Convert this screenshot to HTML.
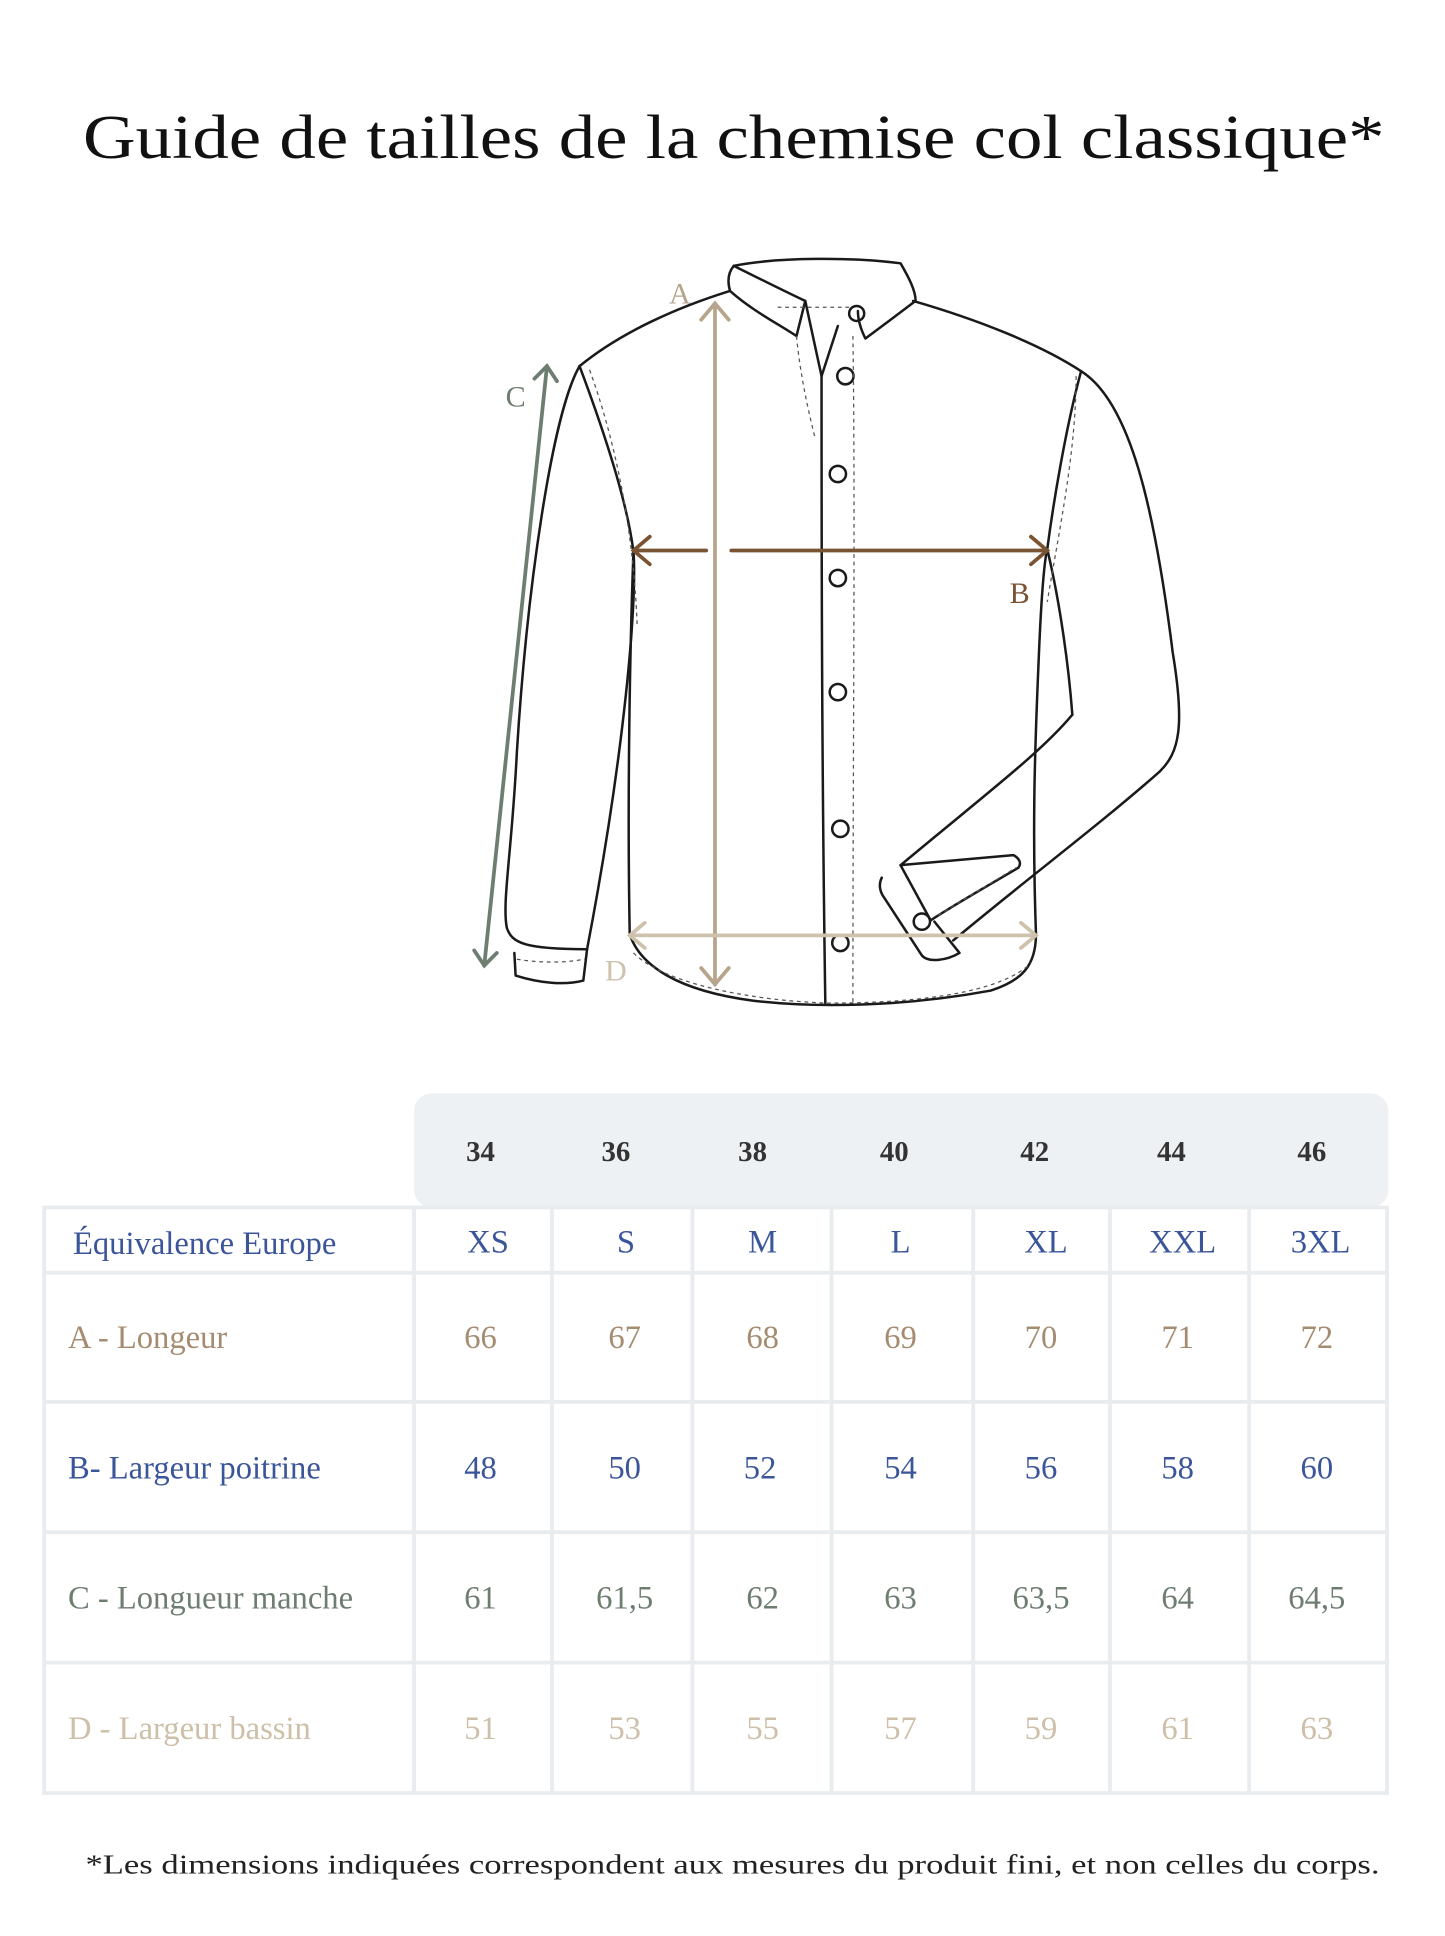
<!DOCTYPE html>
<html><head><meta charset="utf-8"><style>html,body{margin:0;padding:0;background:#fff}svg{display:block}</style></head>
<body>
<svg width="1445" height="1936" viewBox="0 0 1152 1544" xmlns="http://www.w3.org/2000/svg" font-family="Liberation Serif, serif">
<rect width="1152" height="1544" fill="#fff"/>
<text x="585" y="126" font-size="50" text-anchor="middle" fill="#111" textLength="1038" lengthAdjust="spacingAndGlyphs">Guide de tailles de la chemise col classique*</text>

<!-- shirt -->
<g fill="none" stroke="#1a1a1a" stroke-width="2" stroke-linecap="round" stroke-linejoin="round">
  <path d="M582,232 C540,245 495,265 462,292"/>
  <path d="M462,292 C440,330 420,470 412,600 C408,680 400,720 404,740 C408,752 418,757 468,757"/>
  <path d="M410,760 L411,778 C430,784 450,786 465,782 L468,757"/>
  <path d="M462,292 C480,340 500,400 505,440 C508,480 498,600 468,757"/>
  <path d="M505,440 C502,520 500,640 502,745 C510,770 540,790 600,798 C650,804 720,803 790,790 C815,782 826,770 826,745"/>
  <path d="M826,745 C823,660 825,600 828,530 C830,480 832,450 835,438 C840,400 850,340 862,296"/>
  <path d="M728,240 C780,255 830,275 862,296 C900,320 920,400 935,520 C945,580 940,600 925,615 C880,655 820,700 760,750"/>
  <path d="M855,570 C830,600 790,630 718,690"/>
  <path d="M835,438 C845,480 852,530 855,570"/>
  <path d="M703,700 C700,706 702,712 705,716 L735,762 C740,768 755,766 765,760 L745,735"/>
  <path d="M718,690 L742,734 C760,722 790,705 812,692 C815,688 812,684 808,682 L718,690"/>
  <path d="M585,212 C620,205 680,205 718,210 C725,222 730,232 730,240 L690,270 C686,262 684,255 684,248"/>
  <path d="M585,212 C580,218 580,225 582,232 C600,248 620,258 635,268 L642,240 C625,232 605,222 585,212"/>
  <path d="M642,240 L655,300 L668,260"/>
  <path d="M655,300 C655,420 655,600 658,800"/>
  <circle cx="683" cy="250" r="6"/>
  <circle cx="674" cy="300" r="6.5"/><circle cx="668" cy="378" r="6.5"/><circle cx="668" cy="461" r="6.5"/>
  <circle cx="668" cy="552" r="6.5"/><circle cx="670" cy="661" r="6.5"/><circle cx="670" cy="752" r="6.5"/>
  <circle cx="735" cy="735" r="6.5"/>
</g>
<g fill="none" stroke="#555" stroke-width="1" stroke-dasharray="3,3">
  <path d="M680,268 C682,400 680,600 680,800"/>
  <path d="M635,268 C638,300 645,330 650,350"/>
  <path d="M470,295 C490,350 505,420 508,500"/>
  <path d="M858,300 C858,360 845,420 835,480"/>
  <path d="M505,760 C530,785 600,798 660,800 C740,800 800,790 822,768"/>
  <path d="M412,765 C430,768 450,768 466,765"/>
  <path d="M748,730 L810,692"/>
  <path d="M620,245 L680,245"/>
</g>

<!-- arrows -->
<g fill="none" stroke-width="3" stroke-linecap="round">
  <g stroke="#b6a58c"><path d="M570,242 L570,785"/><path d="M559,255 L570,242 L581,255"/><path d="M559,772 L570,785 L581,772"/></g>
  <g stroke="#7a5333"><path d="M505,439 L563,439"/><path d="M583,439 L835,439"/><path d="M518,428 L505,439 L518,450"/><path d="M822,428 L835,439 L822,450"/></g>
  <g stroke="#6d7d70"><path d="M436,292 L386,770"/><path d="M426,302 L436,292 L444,304"/><path d="M378,758 L386,770 L396,760"/></g>
  <g stroke="#cfc2ad"><path d="M502,746 L826,746"/><path d="M514,736 L502,746 L514,756"/><path d="M814,736 L826,746 L814,756"/></g>
</g>
<text x="542" y="242" font-size="24" fill="#b6a58c" text-anchor="middle">A</text>
<text x="813" y="481" font-size="24" fill="#7a5333" text-anchor="middle">B</text>
<text x="411" y="324" font-size="24" fill="#6d7d70" text-anchor="middle">C</text>
<text x="491" y="782" font-size="24" fill="#cfc2ad" text-anchor="middle">D</text>

<!-- table -->
<rect x="330" y="872" width="777" height="91" rx="14" fill="#eef1f4"/>
<g fill="none" stroke="#e8ecef" stroke-width="3">
  <rect x="35" y="963" width="1071" height="467"/>
  <path d="M35,1015H1106M35,1118H1106M35,1222H1106M35,1326H1106"/>
  <path d="M330,963V1430M440,963V1430M552,963V1430M663,963V1430M776,963V1430M885,963V1430M996,963V1430"/>
</g>
<g font-size="23" fill="#333" text-anchor="middle" font-weight="bold">
  <text x="383" y="926">34</text><text x="491" y="926">36</text><text x="600" y="926">38</text><text x="713" y="926">40</text><text x="825" y="926">42</text><text x="934" y="926">44</text><text x="1046" y="926">46</text>
</g>
<g font-size="26" fill="#3b559a">
  <text x="58" y="1000">Équivalence Europe</text>
  <g text-anchor="middle"><text x="389" y="999">XS</text><text x="499" y="999">S</text><text x="608" y="999">M</text><text x="718" y="999">L</text><text x="834" y="999">XL</text><text x="943" y="999">XXL</text><text x="1053" y="999">3XL</text></g>
</g>
<g font-size="26" fill="#a58c70">
  <text x="54" y="1075">A - Longeur</text>
  <g text-anchor="middle"><text x="383" y="1075">66</text><text x="498" y="1075">67</text><text x="608" y="1075">68</text><text x="718" y="1075">69</text><text x="830" y="1075">70</text><text x="939" y="1075">71</text><text x="1050" y="1075">72</text></g>
</g>
<g font-size="26" fill="#3b559a">
  <text x="54" y="1179">B- Largeur poitrine</text>
  <g text-anchor="middle"><text x="383" y="1179">48</text><text x="498" y="1179">50</text><text x="606" y="1179">52</text><text x="718" y="1179">54</text><text x="830" y="1179">56</text><text x="939" y="1179">58</text><text x="1050" y="1179">60</text></g>
</g>
<g font-size="26" fill="#6d7d70">
  <text x="54" y="1283">C - Longueur manche</text>
  <g text-anchor="middle"><text x="383" y="1283">61</text><text x="498" y="1283">61,5</text><text x="608" y="1283">62</text><text x="718" y="1283">63</text><text x="830" y="1283">63,5</text><text x="939" y="1283">64</text><text x="1050" y="1283">64,5</text></g>
</g>
<g font-size="26" fill="#cdbfa8">
  <text x="54" y="1387">D - Largeur bassin</text>
  <g text-anchor="middle"><text x="383" y="1387">51</text><text x="498" y="1387">53</text><text x="608" y="1387">55</text><text x="718" y="1387">57</text><text x="830" y="1387">59</text><text x="939" y="1387">61</text><text x="1050" y="1387">63</text></g>
</g>
<text x="68" y="1494" font-size="22" fill="#222" textLength="1032" lengthAdjust="spacingAndGlyphs">*Les dimensions indiquées correspondent aux mesures du produit fini, et non celles du corps.</text>
</svg>
</body></html>
